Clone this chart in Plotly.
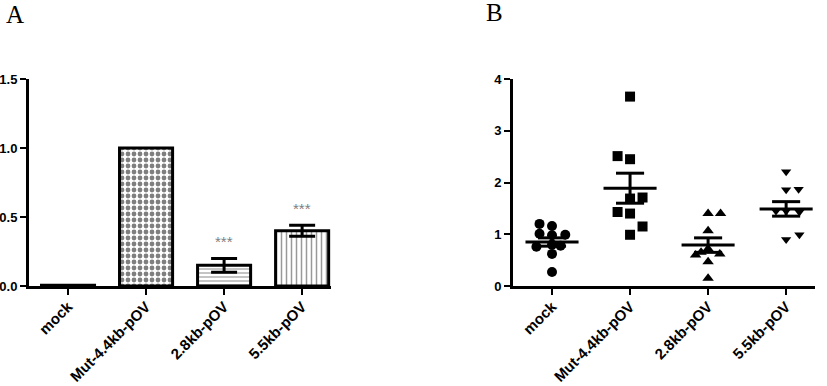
import plotly.graph_objects as go

categories = ["mock", "Mut-4.4kb-pOV", "2.8kb-pOV", "5.5kb-pOV"]

# Panel A: bar values and SEM
bar_values = [0.005, 1.0, 0.15, 0.40]
bar_errors = [0.0, 0.0, 0.05, 0.04]
star_labels = ["", "", "***", "***"]
star_heights = [None, None, 0.32, 0.565]

# Panel B: individual points (values) and jitter offsets (category units)
mock_vals = [1.20, 1.16, 1.01, 0.98, 0.99, 0.76, 0.80, 0.78, 0.62, 0.27]
mock_off = [-0.16, 0.0, -0.16, 0.0, 0.17, -0.20, 0.0, 0.11, 0.0, 0.0]
mut_vals = [3.66, 2.51, 2.45, 1.69, 1.71, 1.43, 1.40, 1.15, 0.99]
mut_off = [0.0, -0.16, 0.0, 0.0, 0.16, -0.16, 0.0, 0.16, 0.0]
kb28_vals = [1.40, 1.40, 1.07, 0.72, 0.65, 0.60, 0.62, 0.47, 0.15]
kb28_off = [0.0, 0.16, 0.0, 0.0, -0.09, -0.16, 0.15, 0.0, 0.0]
kb55_vals = [2.21, 1.86, 1.87, 1.45, 1.45, 1.43, 0.90, 0.99]
kb55_off = [0.0, 0.0, 0.16, -0.13, 0.0, 0.17, 0.0, 0.17]
group_means = [0.85, 1.89, 0.79, 1.49]
group_sems = [0.08, 0.29, 0.14, 0.14]

points = [mock_vals, mut_vals, kb28_vals, kb55_vals]
offsets = [mock_off, mut_off, kb28_off, kb55_off]
symbols = ["circle", "square", "triangle-up", "triangle-down"]
sizes = [10, 10, 10, 9]

patterns = [
    dict(shape=""),
    dict(shape=".", size=6, solidity=0.5, fgcolor="black", bgcolor="white", fillmode="overlay"),
    dict(shape="-", size=4, solidity=0.35, fgcolor="#555", bgcolor="white", fillmode="overlay"),
    dict(shape="|", size=5, solidity=0.3, fgcolor="#333", bgcolor="white", fillmode="overlay"),
]

fig = go.Figure()

for i, c in enumerate(categories):
    fig.add_trace(go.Bar(
        x=[i], y=[bar_values[i]], width=0.68,
        marker=dict(color="white", line=dict(color="black", width=3), pattern=patterns[i]),
        error_y=dict(type="data", array=[bar_errors[i]], visible=bar_errors[i] > 0,
                     color="black", thickness=3, width=13),
        xaxis="x", yaxis="y", showlegend=False, hoverinfo="skip",
    ))

annotations = []
for i in range(len(categories)):
    if star_labels[i]:
        annotations.append(dict(x=i, y=star_heights[i], xref="x", yref="y", text=star_labels[i],
                                showarrow=False,
                                font=dict(family="Liberation Sans", size=15, color="#808080")))

for i in range(len(categories)):
    fig.add_trace(go.Scatter(
        x=[i + o for o in offsets[i]], y=points[i], mode="markers",
        marker=dict(symbol=symbols[i], size=sizes[i], color="black"),
        xaxis="x2", yaxis="y2", showlegend=False, hoverinfo="skip",
    ))
    m, s = group_means[i], group_sems[i]
    line = dict(color="black", width=3)
    fig.add_trace(go.Scatter(x=[i - 0.34, i + 0.34], y=[m, m], mode="lines", line=line,
                             xaxis="x2", yaxis="y2", showlegend=False, hoverinfo="skip"))
    fig.add_trace(go.Scatter(x=[i - 0.18, i + 0.18, None, i - 0.18, i + 0.18, None, i, i],
                             y=[m + s, m + s, None, m - s, m - s, None, m - s, m + s],
                             mode="lines", line=line,
                             xaxis="x2", yaxis="y2", showlegend=False, hoverinfo="skip"))

W, H = 827, 386


def px(X):
    return X / W


def py(Y):
    return 1 - Y / H


ydom = [py(286), py(79)]
xfont = dict(family="Liberation Sans", size=15, color="black", weight="bold")
yfont = dict(family="Liberation Sans", size=13, color="black", weight="bold")
common_x = dict(tickmode="array", tickvals=list(range(4)), ticktext=categories,
                tickangle=-45, ticks="outside", ticklen=6, tickwidth=2, tickcolor="black",
                showline=True, linecolor="black", linewidth=3, showgrid=False,
                zeroline=False, tickfont=xfont, automargin=False, ticklabelstandoff=-3)
common_y = dict(ticks="outside", ticklen=6, tickwidth=2, tickcolor="black",
                showline=True, linecolor="black", linewidth=3, showgrid=False,
                zeroline=False, tickfont=yfont, automargin=False)

annotations += [
    dict(x=px(15), y=py(14), xref="paper", yref="paper", text="A", showarrow=False,
         xanchor="center", yanchor="middle",
         font=dict(family="Liberation Serif", size=25, color="black")),
    dict(x=px(495), y=py(12), xref="paper", yref="paper", text="B", showarrow=False,
         xanchor="center", yanchor="middle",
         font=dict(family="Liberation Serif", size=25, color="black")),
]

fig.update_layout(
    width=W, height=H, margin=dict(l=0, r=0, t=0, b=0, pad=0), autosize=False,
    paper_bgcolor="white", plot_bgcolor="white", barmode="overlay",
    xaxis=dict(domain=[px(29), px(331)], range=[-0.5, 3.37], anchor="y", **common_x),
    yaxis=dict(domain=ydom, range=[0, 1.5], tickvals=[0, 0.5, 1.0, 1.5], tickformat=".1f",
               anchor="x", **common_y),
    xaxis2=dict(domain=[px(513), px(815)], range=[-0.5, 3.37], anchor="y2", **common_x),
    yaxis2=dict(domain=ydom, range=[0, 4], tickvals=[0, 1, 2, 3, 4], anchor="x2", **common_y),
    annotations=annotations,
)

fig.write_html(
    "out.html",
    config={"displayModeBar": False},
    post_script="document.body.style.margin='0';document.body.style.overflow='hidden';",
)
